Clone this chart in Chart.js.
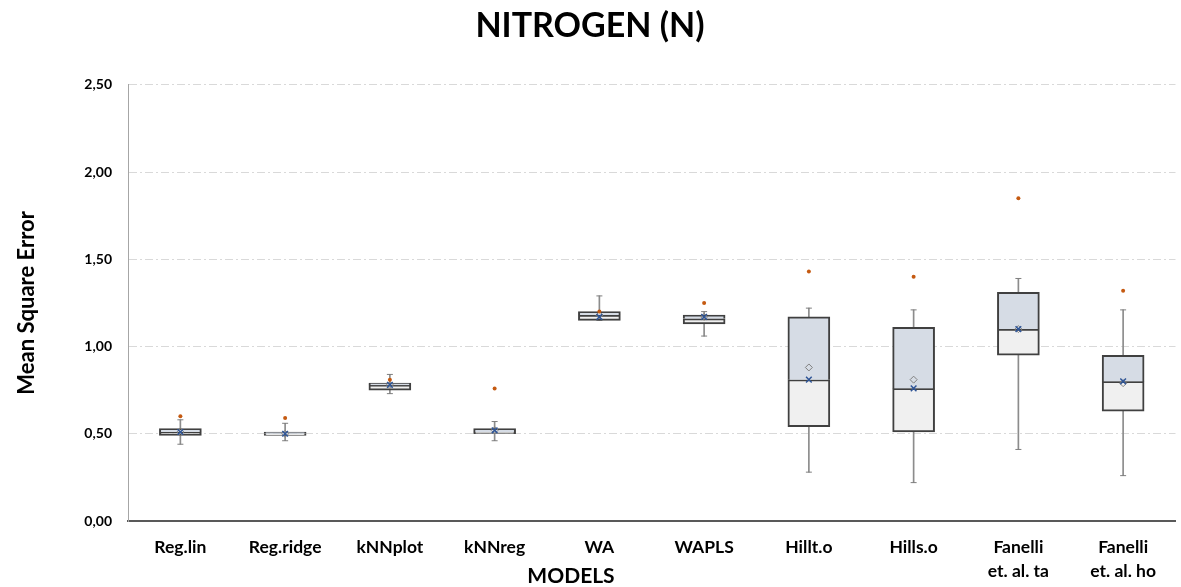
<!DOCTYPE html>
<html>
<head>
<meta charset="utf-8">
<title>NITROGEN (N)</title>
<script src="https://cdn.jsdelivr.net/npm/chart.js@4/dist/chart.umd.min.js"></script>
<style>
    html, body { margin: 0; padding: 0; background: #ffffff; }
    #wrap { position: relative; width: 1181px; height: 587px; }
</style>
</head>
<body>
<div id="wrap"><canvas id="chart"></canvas></div>
<script>
// Models on the x axis
var categories = ['Reg.lin', 'Reg.ridge', 'kNNplot', 'kNNreg', 'WA', 'WAPLS', 'Hillt.o', 'Hills.o',
                  ['Fanelli', 'et. al. ta'], ['Fanelli', 'et. al. ho']];

// Box plot values (mean square error)
var whiskerMin = [0.44, 0.46, 0.73, 0.46, 1.15, 1.06, 0.28, 0.22, 0.41, 0.26];
var q1         = [0.49, 0.49, 0.75, 0.50, 1.15, 1.13, 0.54, 0.51, 0.95, 0.63];
var median     = [0.51, 0.50, 0.78, 0.51, 1.18, 1.16, 0.81, 0.76, 1.10, 0.80];
var q3         = [0.53, 0.51, 0.79, 0.53, 1.20, 1.18, 1.17, 1.11, 1.31, 0.95];
var whiskerMax = [0.58, 0.56, 0.84, 0.57, 1.29, 1.20, 1.22, 1.21, 1.39, 1.21];

// Extra markers
var outliers = [0.60, 0.59, 0.81, 0.76, 1.20, 1.25, 1.43, 1.40, 1.85, 1.32];
var means    = [0.51, 0.50, 0.78, 0.52, 1.17, 1.17, 0.81, 0.76, 1.10, 0.80];
var diamonds = [0.51, 0.50, 0.78, 0.52, 1.18, 1.17, 0.88, 0.81, 1.10, 0.79];

// Y tick labels
var yTickLabels = ['0,00', '0,50', '1,00', '1,50', '2,00', '2,50'];

var FONT = 'Lato';

// build floating bar pairs
var lowerBox = [], upperBox = [], whiskers = [];
for (var i = 0; i < categories.length; i++) {
    lowerBox.push([q1[i], median[i]]);
    upperBox.push([median[i], q3[i]]);
    whiskers.push([whiskerMin[i], whiskerMax[i]]);
}

// "MODELS" sits in the same band as the second label line
var modelsTitle = {
    id: 'modelsTitle',
    afterDraw: function (chart) {
        var ctx = chart.ctx;
        ctx.save();
        ctx.font = 'bold 21px ' + FONT;
        ctx.fillStyle = '#000000';
        ctx.textAlign = 'center';
        ctx.textBaseline = 'middle';
        ctx.fillText('MODELS', 571, 576);
        ctx.restore();
    }
};

var chartConfig = {
    type: 'bar',
    data: {
        labels: categories,
        datasets: [
            {
                label: 'outliers',
                type: 'line',
                data: outliers,
                showLine: false,
                pointStyle: 'circle',
                pointRadius: 2,
                pointBackgroundColor: '#C55A11',
                pointBorderWidth: 0,
                order: 0
            },
            {
                label: 'mean',
                type: 'line',
                data: means,
                showLine: false,
                pointStyle: 'crossRot',
                pointRadius: 4,
                pointBorderColor: '#2F5597',
                pointBorderWidth: 1.5,
                order: 1
            },
            {
                label: 'diamond',
                type: 'line',
                data: diamonds,
                showLine: false,
                pointStyle: 'rectRot',
                pointRadius: 3.5,
                pointBorderColor: '#808080',
                pointBackgroundColor: 'rgba(255,255,255,0)',
                pointBorderWidth: 1,
                order: 2
            },
            {
                label: 'upper',
                data: upperBox,
                backgroundColor: '#D6DCE5',
                borderColor: '#404040',
                borderWidth: 2,
                borderSkipped: 'bottom',
                barThickness: 42,
                grouped: false,
                order: 3
            },
            {
                label: 'lower',
                data: lowerBox,
                backgroundColor: '#F0F0F0',
                borderColor: '#404040',
                borderWidth: 2,
                borderSkipped: false,
                barThickness: 42,
                grouped: false,
                order: 3
            },
            {
                label: 'capMax',
                type: 'line',
                data: whiskerMax,
                showLine: false,
                pointStyle: 'line',
                pointRadius: 3,
                pointBorderColor: '#7F7F7F',
                pointBorderWidth: 1,
                order: 4
            },
            {
                label: 'capMin',
                type: 'line',
                data: whiskerMin,
                showLine: false,
                pointStyle: 'line',
                pointRadius: 3,
                pointBorderColor: '#7F7F7F',
                pointBorderWidth: 1,
                order: 4
            },
            {
                label: 'whiskers',
                data: whiskers,
                backgroundColor: '#8C8C8C',
                borderWidth: 0,
                barThickness: 1,
                grouped: false,
                order: 5
            }
        ]
    },
    options: {
        responsive: true,
        maintainAspectRatio: false,
        animation: false,
        layout: { padding: { left: 0, right: 1, top: 0, bottom: 0 } },
        plugins: {
            legend: { display: false },
            tooltip: { enabled: false },
            title: {
                display: true,
                text: 'NITROGEN (N)',
                color: '#000000',
                font: { family: FONT, size: 34, weight: 'bold' },
                padding: { top: 6, bottom: 38 }
            }
        },
        scales: {
            x: {
                grid: { display: false, drawTicks: false },
                border: { display: true, color: '#595959', width: 2 },
                ticks: {
                    color: '#000000',
                    font: { family: FONT, size: 17.5, weight: 'bold', lineHeight: 1.35 },
                    padding: 15,
                    maxRotation: 0,
                    autoSkip: false
                },
                afterFit: function (scale) { scale.height = 66; }
            },
            y: {
                min: 0,
                max: 2.5,
                grid: {
                    drawTicks: false,
                    lineWidth: 1,
                    color: function (ctx) {
                        return ctx.tick && ctx.tick.value === 0 ? 'rgba(0,0,0,0)' : '#D9D9D9';
                    }
                },
                border: { display: true, color: '#A6A6A6', width: 1, dash: [8, 3, 2, 3] },
                ticks: {
                    stepSize: 0.5,
                    color: '#000000',
                    padding: 16,
                    font: { family: FONT, size: 14, weight: 'bold' },
                    callback: function (value, index) { return yTickLabels[index]; }
                },
                title: {
                    display: true,
                    text: 'Mean Square Error',
                    color: '#000000',
                    font: { family: FONT, size: 22, weight: 'bold' },
                    padding: { top: 14, bottom: 0 }
                },
                afterFit: function (scale) { scale.width = 128; }
            }
        }
    },
    plugins: [modelsTitle]
};

var chart = new Chart(document.getElementById('chart').getContext('2d'), chartConfig);
</script>
</body>
</html>
